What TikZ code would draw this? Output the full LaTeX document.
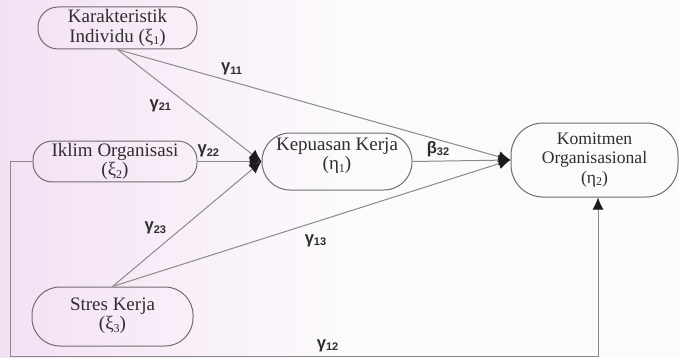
\documentclass[tikz,border=0pt]{standalone}
\usepackage{fontspec}
\setmainfont{Liberation Serif}
\newfontfamily\coeffont{Liberation Sans}
\usepackage{xcolor}
\usetikzlibrary{arrows.meta}

\definecolor{bgpink}{RGB}{244,224,244}
\definecolor{bgwhite}{RGB}{252,250,252}
\definecolor{boxgray}{HTML}{6E6E6E}
\definecolor{linegray}{HTML}{8A8A8A}
\definecolor{textgray}{HTML}{2E2E2E}
\definecolor{tipblack}{HTML}{1C1C1C}

% lowered index inside node texts and path coefficients
\newcommand{\lowidx}[1]{\raisebox{-0.3ex}{\fontsize{6}{6}\selectfont #1}}
\newcommand{\coefname}[2]{#1\raisebox{-0.3ex}{\fontsize{5.5}{6}\selectfont #2}}

\begin{document}
\begin{tikzpicture}[x=0.5pt, y=-0.5pt, >={Latex[length=6pt,width=5.5pt,color=tipblack]},
    var/.style={draw=boxgray, line width=0.5pt, align=center, text=textgray,
      font=\fontsize{9.5}{9.8}\selectfont, inner sep=1pt},
    link/.style={draw=linegray, line width=0.5pt, ->},
    coef/.style={font=\coeffont\bfseries\fontsize{8.3}{9}\selectfont, text=textgray, inner sep=1pt}]
    \useasboundingbox (0,0) rectangle (679,358);

    % Background
    \shade[left color=bgpink, right color=bgwhite] (0,0) rectangle (340,358);
    \fill[bgwhite] (340,0) rectangle (679,358);

    % Latent variables
    \node[var, minimum width=79.5pt, minimum height=21pt, rounded corners=10pt]
      (kar) at (117.5,28) {Karakteristik\\Individu (ξ\lowidx{1})};
    \node[var, minimum width=82pt, minimum height=19.5pt, rounded corners=9.5pt]
      (ikl) at (115,161.5) {Iklim Organisasi\\(ξ\lowidx{2})};
    \node[var, minimum width=80.5pt, minimum height=29.5pt, rounded corners=14pt, text height=15.5pt]
      (str) at (112.5,316.5) {Stres Kerja\\(ξ\lowidx{3})};
    \node[var, minimum width=75pt, minimum height=28.5pt, rounded corners=14pt, text height=10.5pt]
      (kep) at (337,161.5) {Kepuasan Kerja\\(η\lowidx{1})};
    \node[var, minimum width=83.5pt, minimum height=37pt, rounded corners=16pt,
      font=\fontsize{8.8}{9.8}\selectfont]
      (kom) at (594.5,160) {Komitmen\\Organisasional\\(η\lowidx{2})};

    % Into Kepuasan Kerja
    \draw[link] (kar.south) -- node[coef, pos=.5, left=8pt]   {\coefname{γ}{21}} (kep.west);
    \draw[link] (ikl.east)  -- node[coef, pos=.17, above=1pt] {\coefname{γ}{22}} (kep.west);
    \draw[link] (str.north) -- node[coef, pos=.47, left=7pt]  {\coefname{γ}{23}} (kep.west);
    % Into Komitmen Organisasional
    \draw[link] (kar.south) -- node[coef, pos=.29, above=2pt] {\coefname{γ}{11}} (kom.west);
    \draw[link] (str.north) -- node[coef, pos=.51, below=5pt] {\coefname{γ}{13}} (kom.west);
    \draw[link] (kep.east)  -- node[coef, pos=.26, above=1pt] {\coefname{β}{32}} (kom.west);

    % Iklim Organisasi round the bottom
    \coordinate (lowleft)  at (10,356);
    \coordinate (lowright) at (598,356);
    \draw[link] (ikl.west) -| (lowleft)
      -- node[coef, pos=.54, above=1pt] {\coefname{γ}{12}} (lowright)
      -- (lowright |- kom.south);
\end{tikzpicture}
\end{document}
